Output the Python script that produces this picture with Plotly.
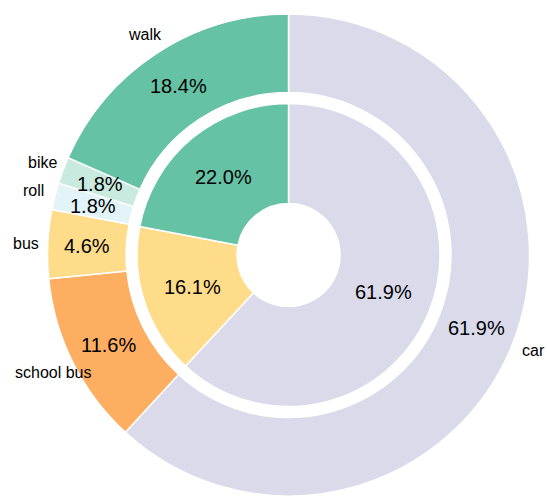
import math
import plotly.graph_objects as go

# Outer ring: individual travel modes (percent share)
modes = ["car", "school bus", "bus", "roll", "bike", "walk"]
mode_share = [61.9, 11.6, 4.6, 1.8, 1.8, 18.4]
mode_colors = ["#dadaeb", "#fdae61", "#fedc8a", "#e2f4f7", "#c9eadf", "#66c2a5"]

# Inner ring: grouped travel modes (percent share)
groups = ["car", "bus", "active"]
group_share = [61.9, 16.1, 22.0]
group_colors = ["#dadaeb", "#fedc8a", "#66c2a5"]

W, H = 547, 496
FONT = "Liberation Sans, Arial, Helvetica, sans-serif"

outer_dom = dict(x=[0.06, 0.995], y=[0.0, 0.9718])
inner_dom = dict(x=[0.2, 0.855], y=[0.1805, 0.7913])
OUTER_HOLE = 0.674
INNER_HOLE = 0.34


def pie_geometry(dom):
    """Pixel centre and radius that plotly gives a pie in this domain."""
    w = (dom["x"][1] - dom["x"][0]) * W
    h = (dom["y"][1] - dom["y"][0]) * H
    cx = (dom["x"][0] + dom["x"][1]) / 2 * W
    cy = H * (1 - dom["y"][0]) - h / 2
    return cx, cy, min(w, h) / 2


def ring_labels(values, texts, dom, radius_factor, size):
    """Annotations centred on each slice's mid-angle (clockwise from 12 o'clock)."""
    cx, cy, r = pie_geometry(dom)
    rr = r * radius_factor
    total = sum(values)
    out, acc = [], 0.0
    for v, t in zip(values, texts):
        mid = (acc + v / 2) / total * 2 * math.pi
        acc += v
        px = cx + rr * math.sin(mid)
        py = cy - rr * math.cos(mid)
        out.append(dict(
            x=px / W, y=1 - py / H, xref="paper", yref="paper",
            text=t, showarrow=False, xanchor="center", yanchor="middle",
            font=dict(family=FONT, size=size, color="black"),
        ))
    return out


fig = go.Figure()

fig.add_trace(go.Pie(
    labels=groups, values=group_share, sort=False, direction="clockwise",
    rotation=0, hole=INNER_HOLE, domain=inner_dom, automargin=False,
    marker=dict(colors=group_colors, line=dict(color="white", width=1.5)),
    textinfo="none", showlegend=False, name="group",
))

fig.add_trace(go.Pie(
    labels=modes, values=mode_share, sort=False, direction="clockwise",
    rotation=0, hole=OUTER_HOLE, domain=outer_dom, automargin=False,
    marker=dict(colors=mode_colors, line=dict(color="white", width=1.5)),
    textinfo="none", showlegend=False, name="mode",
))

annotations = []
# percentages at the middle of each ring
annotations += ring_labels(group_share, [f"{v:.1f}%" for v in group_share],
                           inner_dom, (1 + INNER_HOLE) / 2, 20)
annotations += ring_labels(mode_share, [f"{v:.1f}%" for v in mode_share],
                           outer_dom, (1 + OUTER_HOLE) / 2, 20)
# mode names just outside the outer ring
annotations += ring_labels(mode_share, modes, outer_dom, 1.09, 16)

fig.update_layout(
    width=W, height=H,
    margin=dict(l=0, r=0, t=0, b=0, autoexpand=False),
    paper_bgcolor="white", plot_bgcolor="white",
    annotations=annotations,
)

fig.write_html("out.html")
